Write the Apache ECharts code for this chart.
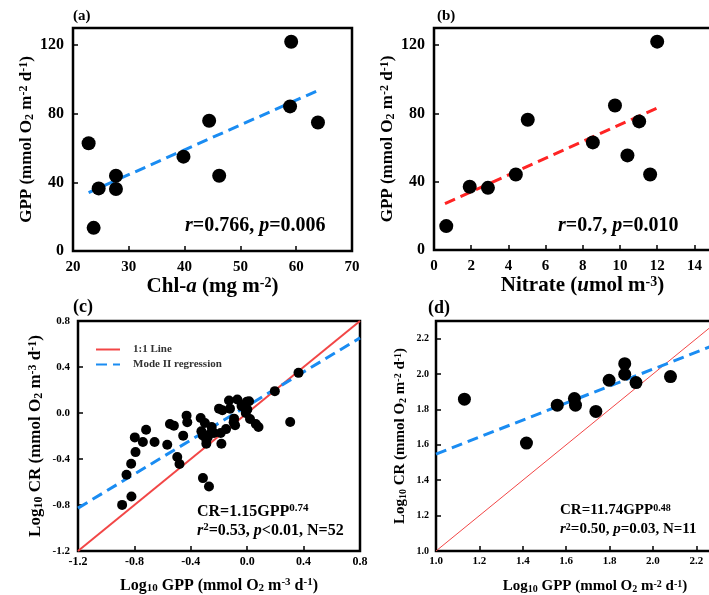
<!DOCTYPE html>
<html>
<head>
<meta charset="utf-8">
<script src="https://cdn.jsdelivr.net/npm/echarts@6/dist/echarts.min.js"></script>
<style>
  html, body { margin: 0; padding: 0; background: #fff; }
  #chart { width: 709px; height: 595px; }
</style>
</head>
<body>
<div id="chart"></div>
<script>
// ---- (a) GPP vs Chl-a ----
const chlA = [22.8, 23.7, 24.6, 27.7, 27.7, 39.8, 44.4, 46.2, 59.1, 58.9, 63.9];
const gppA = [62.8, 13.5, 36.5, 43.9, 36.1, 55.0, 75.9, 43.9, 122.0, 84.3, 74.9];
const fitA = [[22.8, 34.1], [64.2, 94.0]];

// ---- (b) GPP vs Nitrate ----
const nitrate = [0.66, 1.92, 2.9, 4.4, 5.04, 8.54, 9.73, 10.4, 11.03, 11.62, 12.0];
const gppB = [14.0, 37.0, 36.4, 44.2, 76.3, 63.0, 84.6, 55.4, 75.3, 44.2, 122.0];
const fitB = [[0.59, 27.2], [11.96, 83.0]];

// ---- (c) log10 CR vs log10 GPP, volumetric ----
const logGppC = [-0.887, -0.821, -0.856, -0.823, -0.792, -0.797, -0.740, -0.717, -0.657, -0.567,
  -0.548, -0.520, -0.496, -0.480, -0.454, -0.430, -0.425, -0.330, -0.325, -0.314,
  -0.300, -0.290, -0.290, -0.271, -0.259, -0.252, -0.236, -0.200, -0.188, -0.183,
  -0.176, -0.129, -0.122, -0.093, -0.086, -0.070, -0.003, 0.013, 0.001, -0.015,
  0.020, 0.061, 0.080, 0.196, 0.305, 0.364, -0.315, -0.280, -0.150, -0.040, -0.010, -0.096];
const logCrC = [-0.799, -0.726, -0.537, -0.441, -0.340, -0.212, -0.252, -0.145, -0.252, -0.276,
  -0.095, -0.110, -0.383, -0.444, -0.197, -0.023, -0.081, -0.043, -0.159, -0.566,
  -0.087, -0.232, -0.267, -0.639, -0.174, -0.122, -0.174, 0.038, -0.174, -0.267,
  0.024, 0.108, 0.038, -0.049, -0.107, 0.117, 0.097, 0.102, 0.030, 0.044,
  -0.052, -0.095, -0.122, 0.190, -0.078, 0.349, -0.195, -0.210, -0.140, 0.060, 0.000, -0.080];
const oneToOneC = [[-1.2, -1.2], [0.8, 0.8]];
const fitC = [[-1.2, -0.827], [0.8, 0.653]];

// ---- (d) log10 CR vs log10 GPP, areal ----
const logGppD = [1.131, 1.417, 1.559, 1.638, 1.643, 1.737, 1.798, 1.870, 1.870, 1.922, 2.081];
const logCrD = [1.858, 1.610, 1.824, 1.862, 1.824, 1.789, 1.965, 2.059, 1.999, 1.952, 1.986];
const oneToOneD = [[1.0, 1.0], [2.3, 2.3]];
const fitD = [[1.0, 1.548], [2.3, 2.172]];

// tick labels
const ticksAx = [20, 30, 40, 50, 60, 70];
const ticksGpp = [0, 40, 80, 120];
const ticksBx = [0, 2, 4, 6, 8, 10, 12, 14];
const ticksC = [-1.2, -0.8, -0.4, 0, 0.4, 0.8];
const ticksD = [1.0, 1.2, 1.4, 1.6, 1.8, 2.0, 2.2];

const FONT = '"Liberation Serif", "Times New Roman", serif';
const BLUE = '#1a8cf2';

function zip(xs, ys) { return xs.map((x, i) => [x, ys[i]]); }

// rich-text styles for units with sub/superscripts
function richFor(size) {
  const small = Math.round(size * 0.68);
  return {
    n: { fontFamily: FONT, fontWeight: 'bold', fontSize: size, color: '#000' },
    i: { fontFamily: FONT, fontWeight: 'bold', fontStyle: 'italic', fontSize: size, color: '#000' },
    sup: { fontFamily: FONT, fontWeight: 'bold', fontSize: small, color: '#000', verticalAlign: 'top', padding: [0, 0, Math.round(size * 0.35), 0] },
    sub: { fontFamily: FONT, fontWeight: 'bold', fontSize: small, color: '#000', verticalAlign: 'bottom', padding: [Math.round(size * 0.35), 0, 0, 0] }
  };
}

function valueAxis(opts) {
  const dec = opts.dec || 0;
  return {
    type: 'value',
    gridIndex: opts.grid,
    min: opts.min, max: opts.max,
    name: opts.name,
    nameLocation: 'middle',
    nameGap: opts.nameGap,
    nameTextStyle: Object.assign({
      fontFamily: FONT, fontWeight: 'bold', fontSize: opts.nameSize, color: '#000',
      rich: richFor(opts.nameSize)
    }, opts.namePad ? { padding: opts.namePad } : {}),
    splitLine: { show: false },
    axisLine: { show: false, onZero: false },
    axisTick: { show: true, inside: true, length: 5, lineStyle: { color: '#000', width: 1.5 }, customValues: opts.ticks },
    axisLabel: {
      customValues: opts.ticks,
      margin: opts.labelMargin,
      fontFamily: FONT, fontWeight: 'bold', fontSize: opts.labelSize, color: '#000',
      formatter: v => Number(v).toFixed(dec)
    }
  };
}

const grids = [
  { left: 73, top: 28, width: 279, height: 223 },
  { left: 434, top: 28, width: 279, height: 222 },
  { left: 78, top: 321, width: 282, height: 230 },
  { left: 436, top: 321, width: 282, height: 230 }
].map(g => Object.assign({ show: true, borderColor: '#000', borderWidth: 2.5, backgroundColor: 'transparent',
  containLabel: false, outerBoundsMode: 'none' }, g));

const xAxes = [
  valueAxis({ grid: 0, min: 20, max: 70, ticks: ticksAx, name: '{n|Chl-}{i|a}{n| (mg m}{sup|-2}{n|)}', nameGap: 24, nameSize: 21, labelSize: 15, labelMargin: 9 }),
  valueAxis({ grid: 1, min: 0, max: 15, ticks: ticksBx, name: '{n|Nitrate (}{i|u}{n|mol m}{sup|-3}{n|)}', nameGap: 24, nameSize: 21, labelSize: 15, labelMargin: 9, namePad: [0, 0, 0, 18] }),
  valueAxis({ grid: 2, min: -1.2, max: 0.8, ticks: ticksC, dec: 1, name: '{n|Log}{sub|10}{n| GPP (mmol O}{sub|2}{n| m}{sup|-3}{n| d}{sup|-1}{n|)}', nameGap: 26, nameSize: 16, labelSize: 12, labelMargin: 5 }),
  valueAxis({ grid: 3, min: 1.0, max: 2.3, ticks: ticksD, dec: 1, name: '{n|Log}{sub|10}{n| GPP (mmol O}{sub|2}{n| m}{sup|-2}{n| d}{sup|-1}{n|)}', nameGap: 28, nameSize: 15, labelSize: 11, labelMargin: 5, namePad: [0, 0, 0, 36] })
];
const yAxes = [
  valueAxis({ grid: 0, min: 0, max: 130, ticks: ticksGpp, name: '{n|GPP (mmol O}{sub|2}{n| m}{sup|-2}{n| d}{sup|-1}{n|)}', nameGap: 36, nameSize: 17, labelSize: 16, labelMargin: 9 }),
  valueAxis({ grid: 1, min: 0, max: 130, ticks: ticksGpp, name: '{n|GPP (mmol O}{sub|2}{n| m}{sup|-2}{n| d}{sup|-1}{n|)}', nameGap: 37, nameSize: 17, labelSize: 16, labelMargin: 9 }),
  valueAxis({ grid: 2, min: -1.2, max: 0.8, ticks: ticksC, dec: 1, name: '{n|Log}{sub|10}{n| CR (mmol O}{sub|2}{n| m}{sup|-3}{n| d}{sup|-1}{n|)}', nameGap: 33, nameSize: 17, labelSize: 11, labelMargin: 8 }),
  valueAxis({ grid: 3, min: 1.0, max: 2.3, ticks: ticksD, dec: 1, name: '{n|Log}{sub|10}{n| CR (mmol O}{sub|2}{n| m}{sup|-2}{n| d}{sup|-1}{n|)}', nameGap: 28, nameSize: 15, labelSize: 10, labelMargin: 7 })
];

function scatter(idx, data, size) {
  return { type: 'scatter', xAxisIndex: idx, yAxisIndex: idx, data, symbolSize: size,
    itemStyle: { color: '#000', opacity: 1 }, z: 3, silent: true };
}
function line(idx, name, data, color, width, dashed) {
  return { type: 'line', name, xAxisIndex: idx, yAxisIndex: idx, data, symbol: 'none',
    lineStyle: { color, width, type: dashed ? [11, 6] : 'solid' }, itemStyle: { color },
    z: 2, silent: true, animation: false };
}

const series = [
  line(0, 'fitA', fitA, BLUE, 3, true),
  scatter(0, zip(chlA, gppA), 14),
  line(1, 'fitB', fitB, '#ff2424', 3, true),
  scatter(1, zip(nitrate, gppB), 14),
  scatter(2, zip(logGppC, logCrC), 10),
  line(2, '1:1 Line', oneToOneC, '#f24646', 2, false),
  line(2, 'Mode II regression', fitC, BLUE, 3, true),
  scatter(3, zip(logGppD, logCrD), 13),
  line(3, '1:1 line (d)', oneToOneD, '#f24646', 1, false),
  line(3, 'fitD', fitD, BLUE, 3, true)
];

function label(text, x, y, size) {
  return { type: 'text', left: x, top: y, silent: true,
    style: { text, fill: '#000', fontFamily: FONT, fontWeight: 'bold', fontSize: size } };
}
function richLabel(text, x, y, size) {
  return { type: 'text', left: x, top: y, silent: true,
    style: { text, fill: '#000', fontFamily: FONT, fontWeight: 'bold', fontSize: size, rich: richFor(size) } };
}

const option = {
  animation: false,
  backgroundColor: '#fff',
  grid: grids,
  xAxis: xAxes,
  yAxis: yAxes,
  legend: {
    data: ['1:1 Line', 'Mode II regression'],
    orient: 'vertical',
    left: 90, top: 339,
    itemWidth: 24, itemHeight: 10, itemGap: 4,
    itemStyle: { opacity: 0 },
    textStyle: { fontFamily: FONT, fontWeight: 'bold', fontSize: 11, color: '#333', padding: [0, 0, 0, 8] }
  },
  series,
  graphic: [
    label('(a)', 73, 9, 15),
    label('(b)', 437, 9, 15),
    label('(c)', 73, 298, 18),
    label('(d)', 428, 299, 18),
    richLabel('{i|r}{n|=0.766, }{i|p}{n|=0.006}', 185, 216, 20),
    richLabel('{i|r}{n|=0.7, }{i|p}{n|=0.010}', 558, 216, 20),
    richLabel('{n|CR=1.15GPP}{sup|0.74}', 197, 503, 16),
    richLabel('{i|r}{sup|2}{n|=0.53, }{i|p}{n|<0.01, N=52}', 197, 522, 16),
    richLabel('{n|CR=11.74GPP}{sup|0.48}', 560, 503, 15),
    richLabel('{i|r}{sup|2}{n|=0.50, }{i|p}{n|=0.03, N=11}', 560, 522, 15)
  ]
};

const chart = echarts.init(document.getElementById('chart'), null, { renderer: 'canvas' });
chart.setOption(option);
</script>
</body>
</html>
